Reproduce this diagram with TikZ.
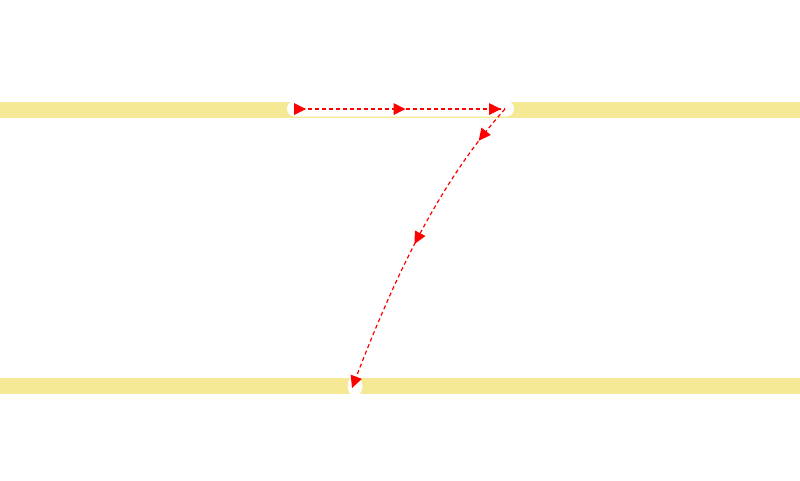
\documentclass[tikz,border=0pt]{standalone}
\usetikzlibrary{decorations.markings}
\definecolor{band}{HTML}{F5E996}
\definecolor{arr}{HTML}{FF0000}
\tikzset{
  route/.style={draw=arr, line width=1.2pt, dash pattern=on 4pt off 3pt},
  tip/.style={fill=arr, draw=none},
}
\newcommand{\rmidtip}{\fill[tip,solid] (6,0) -- (-6,6) -- (-6,-6) -- cycle;}
\newcommand{\rlasttip}{\fill[tip,solid] (0,0) -- (-12,6) -- (-12,-6) -- cycle;}
\newcommand{\rfirsttip}{\fill[tip,solid] (12,0) -- (0,6) -- (0,-6) -- cycle;}
\begin{document}
\begin{tikzpicture}[x=1pt,y=-1pt]
\useasboundingbox (0,0) rectangle (800,480);
% bands
\fill[band] (0,102) rectangle (800,118);
\fill[band] (0,378) rectangle (800,394);
% white gap on top band
\fill[white, rounded corners=7.5pt] (287,101) rectangle (514,116.5);
\fill[white] (355,386) ellipse [x radius=7.5, y radius=10];
% nodes
\coordinate (a) at (294,109);
\coordinate (b) at (505,109);
\coordinate (c) at (352,388);
% paths
\draw[route, postaction={decorate}, decoration={markings,
  mark=at position 0.0 with {\rfirsttip},
  mark=at position 0.5 with {\rmidtip},
  mark=at position -4pt with {\rlasttip}}]
  (a) -- (b);
\draw[route, postaction={decorate}, decoration={markings,
  mark=at position 0.11 with {\rmidtip},
  mark=at position 0.49 with {\rmidtip},
  mark=at position 0.9999 with {\rlasttip}}]
  (b) .. controls (435,187) and (390,288) .. (c);
\end{tikzpicture}
\end{document}
